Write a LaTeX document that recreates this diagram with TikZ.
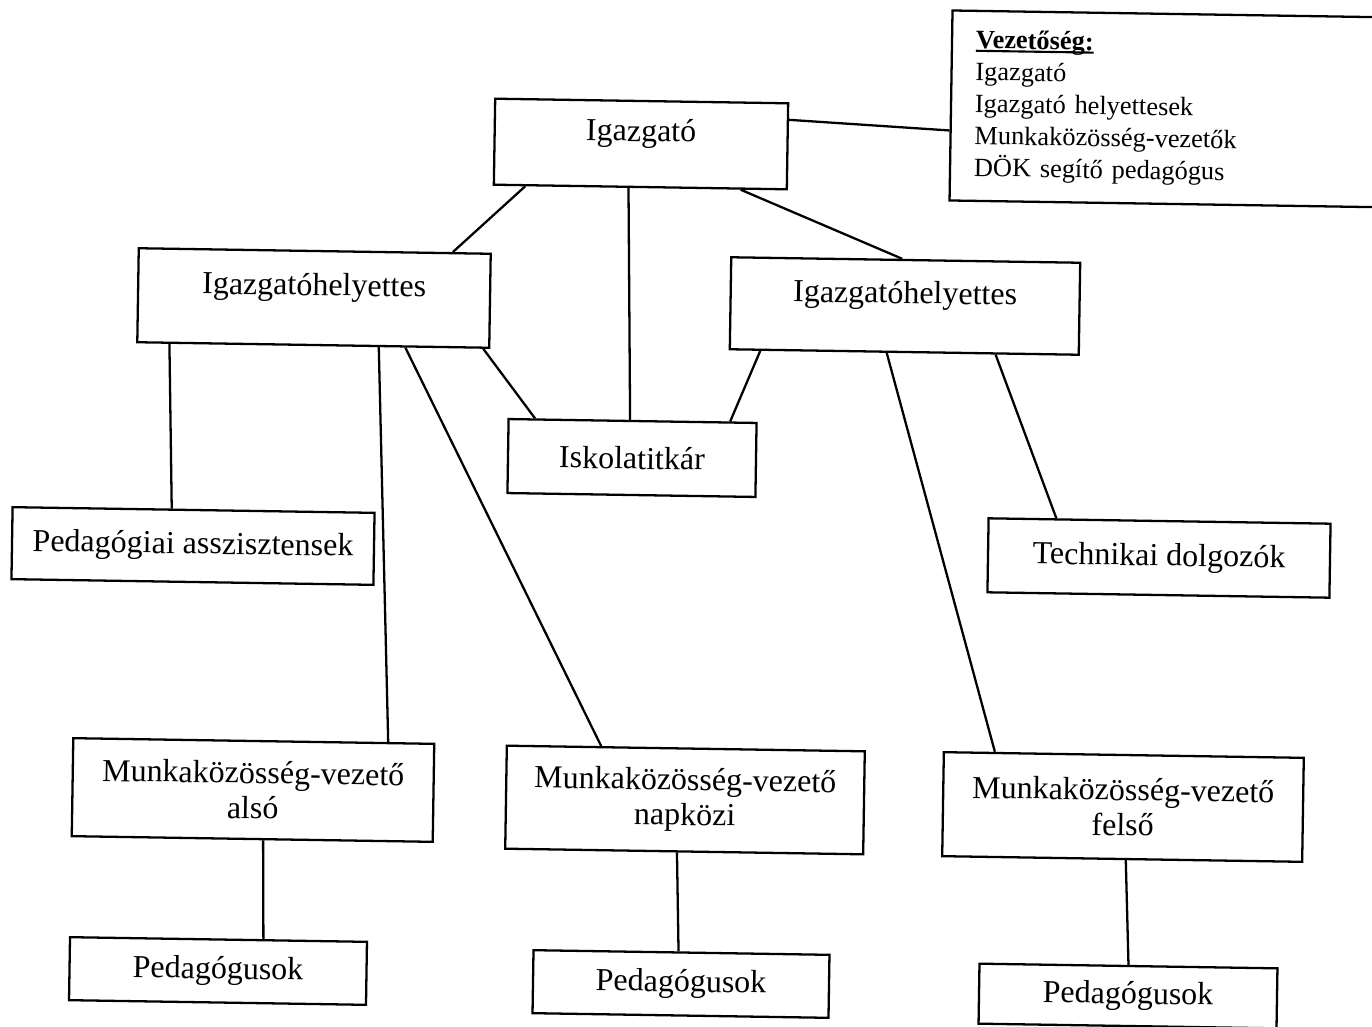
\documentclass[tikz,border=0pt]{standalone}
\usepackage{fontspec}
\setmainfont{Liberation Serif}
\usetikzlibrary{calc}
\newdimen\pxu \pxu=0.01cm
\tikzset{
  box/.style={draw, line width=0.65pt, rectangle, inner sep=0pt, align=center, rotate=-0.9,
    font=\fontsize{9.1pt}{10pt}\selectfont},
  raised/.style={text height=6.5pt, text depth=8pt},
  conn/.style={line width=0.65pt},
}
\begin{document}
\begin{tikzpicture}[x=0.01cm, y=-0.01cm]
\useasboundingbox[fill=white] (0,0) rectangle (1372,1027);
% boxes
\node[box, raised, minimum width=293\pxu, minimum height=86\pxu] (igaz) at (641,144) {Igazgató};
\node[box, minimum width=448\pxu, minimum height=190\pxu, text width=400\pxu, align=left,
      font=\fontsize{7.5pt}{9.1pt}\selectfont] (leg) at (1175,109)
  {\setbox0\hbox{\bfseries Vezetőség:}\rlap{\rule[-1pt]{\wd0}{0.6pt}}\box0\\
   Igazgató\\ Igazgató helyettesek\\ Munkaközösség-vezetők\\ DÖK segítő pedagógus};
\node[box, raised, minimum width=352\pxu, minimum height=94\pxu] (ihl) at (314,298) {Igazgatóhelyettes};
\node[box, raised, minimum width=349\pxu, minimum height=92\pxu] (ihr) at (905,306) {Igazgatóhelyettes};
\node[box, minimum width=248\pxu, minimum height=74\pxu] (isk) at (632,458) {Iskolatitkár};
\node[box, minimum width=362\pxu, minimum height=72\pxu] (passz) at (193,546) {Pedagógiai asszisztensek};
\node[box, minimum width=342\pxu, minimum height=74\pxu] (tech) at (1159,558) {Technikai dolgozók};
\node[box, minimum width=361\pxu, minimum height=98\pxu] (mkva) at (253,790) {Munkaközösség-vezető\\alsó};
\node[box, minimum width=358\pxu, minimum height=103\pxu] (mkvn) at (685,800) {Munkaközösség-vezető\\napközi};
\node[box, minimum width=360\pxu, minimum height=104\pxu] (mkvf) at (1123,807) {Munkaközösség-vezető\\felső};
\node[box, minimum width=297\pxu, minimum height=63\pxu] (ped1) at (218,971) {Pedagógusok};
\node[box, minimum width=296\pxu, minimum height=63\pxu] (ped2) at (681,984) {Pedagógusok};
\node[box, minimum width=298\pxu, minimum height=60\pxu] (ped3) at (1128,996) {Pedagógusok};
% connectors
\draw[conn] ($(igaz.north east)!0.2!(igaz.south east)$) -- ($(leg.north west)!0.63!(leg.south west)$);
\draw[conn] ($(igaz.south west)!0.11!(igaz.south east)$) -- ($(ihl.north west)!0.89!(ihl.north east)$);
\draw[conn] ($(igaz.south west)!0.46!(igaz.south east)$) -- ($(isk.north west)!0.49!(isk.north east)$);
\draw[conn] ($(igaz.south west)!0.84!(igaz.south east)$) -- ($(ihr.north west)!0.49!(ihr.north east)$);
\draw[conn] ($(ihl.south west)!0.98!(ihl.south east)$) -- ($(isk.north west)!0.11!(isk.north east)$);
\draw[conn] ($(ihr.south west)!0.09!(ihr.south east)$) -- ($(isk.north west)!0.89!(isk.north east)$);
\draw[conn] ($(ihl.south west)!0.094!(ihl.south east)$) -- ($(passz.north west)!0.44!(passz.north east)$);
\draw[conn] ($(ihl.south west)!0.685!(ihl.south east)$) -- ($(mkva.north west)!0.87!(mkva.north east)$);
\draw[conn] ($(ihl.south west)!0.76!(ihl.south east)$) -- ($(mkvn.north west)!0.265!(mkvn.north east)$);
\draw[conn] ($(ihr.south west)!0.45!(ihr.south east)$) -- ($(mkvf.north west)!0.144!(mkvf.north east)$);
\draw[conn] ($(ihr.south west)!0.76!(ihr.south east)$) -- ($(tech.north west)!0.2!(tech.north east)$);
\draw[conn] ($(mkva.south west)!0.53!(mkva.south east)$) -- ($(ped1.north west)!0.65!(ped1.north east)$);
\draw[conn] ($(mkvn.south west)!0.48!(mkvn.south east)$) -- ($(ped2.north west)!0.49!(ped2.north east)$);
\draw[conn] ($(mkvf.south west)!0.51!(mkvf.south east)$) -- ($(ped3.north west)!0.5!(ped3.north east)$);
\end{tikzpicture}
\end{document}
